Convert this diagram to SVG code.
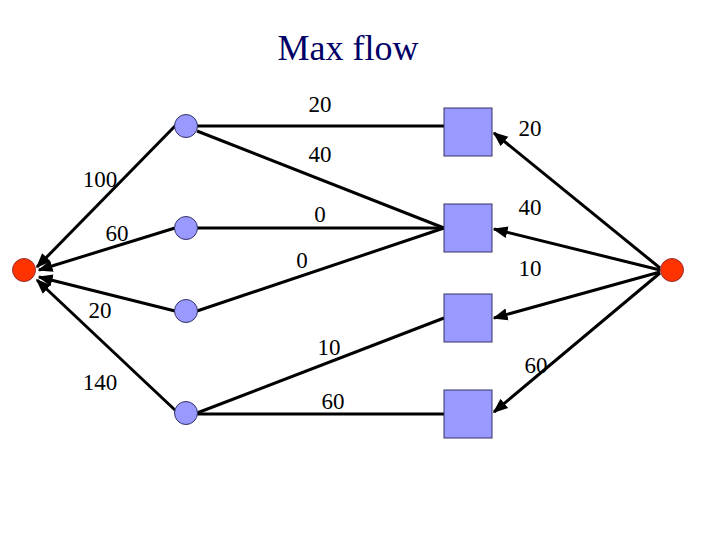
<svg xmlns="http://www.w3.org/2000/svg" width="720" height="540" viewBox="0 0 720 540">
<defs>
<style>
.c{fill:#9999ff;stroke:#333366;stroke-width:1}
.r{fill:#ff3300;stroke:#993333;stroke-width:1}
.e{stroke:#000;stroke-width:3;fill:none}
.a{marker-end:url(#ar)}
text{font-family:"Liberation Serif",serif;font-size:23px;fill:#000}
</style>
<marker id="ar" viewBox="0 0 10 10" refX="9" refY="5" markerWidth="5" markerHeight="5" orient="auto" markerUnits="strokeWidth"><path d="M0,1 L10,5 L0,9 Z" fill="#000"/></marker>
</defs>
<rect width="720" height="540" fill="#fff"/>
<text x="348" y="60" text-anchor="middle" style="font-size:36px;fill:#000066">Max flow</text>
<g id="connectors">
<line class="e" x1="197" y1="126" x2="449" y2="126"/>
<line class="e" x1="197" y1="131" x2="444" y2="228"/>
<line class="e" x1="197" y1="228" x2="444" y2="228"/>
<line class="e" x1="197" y1="311" x2="444" y2="228"/>
<line class="e" x1="197" y1="413" x2="444" y2="318"/>
<line class="e" x1="197" y1="414" x2="444" y2="414"/>
<line class="e a" x1="176" y1="125" x2="37" y2="267"/>
<line class="e a" x1="175" y1="228" x2="39" y2="270"/>
<line class="e a" x1="175" y1="311" x2="39" y2="277"/>
<line class="e a" x1="176" y1="411" x2="37" y2="280"/>
<line class="e a" x1="660" y1="268" x2="494" y2="133"/>
<line class="e a" x1="660" y1="270" x2="494" y2="229"/>
<line class="e a" x1="660" y1="272" x2="494" y2="318"/>
<line class="e a" x1="660" y1="273" x2="494" y2="412"/>
</g>
<g id="s"><circle class="r" cx="24" cy="270" r="11.5"/></g>
<g id="t"><circle class="r" cx="672" cy="270" r="11.5"/></g>
<g id="a1"><circle class="c" cx="186" cy="126" r="11.5"/></g>
<g id="a2"><circle class="c" cx="186" cy="228" r="11.5"/></g>
<g id="a3"><circle class="c" cx="186" cy="311" r="11.5"/></g>
<g id="a4"><circle class="c" cx="186" cy="413" r="11.5"/></g>
<g id="b1"><rect class="c" x="444" y="108" width="48" height="48"/></g>
<g id="b2"><rect class="c" x="444" y="204" width="48" height="48"/></g>
<g id="b3"><rect class="c" x="444" y="294" width="48" height="48"/></g>
<g id="b4"><rect class="c" x="444" y="390" width="48" height="48"/></g>
<g id="labels">
<text x="320" y="112" text-anchor="middle">20</text>
<text x="320" y="162" text-anchor="middle">40</text>
<text x="100" y="187" text-anchor="middle">100</text>
<text x="117" y="241" text-anchor="middle">60</text>
<text x="320" y="222" text-anchor="middle">0</text>
<text x="302" y="268" text-anchor="middle">0</text>
<text x="100" y="318" text-anchor="middle">20</text>
<text x="329" y="355" text-anchor="middle">10</text>
<text x="100" y="390" text-anchor="middle">140</text>
<text x="333" y="409" text-anchor="middle">60</text>
<text x="530" y="136" text-anchor="middle">20</text>
<text x="530" y="215" text-anchor="middle">40</text>
<text x="530" y="276" text-anchor="middle">10</text>
<text x="536" y="373" text-anchor="middle">60</text>
</g>
</svg>
